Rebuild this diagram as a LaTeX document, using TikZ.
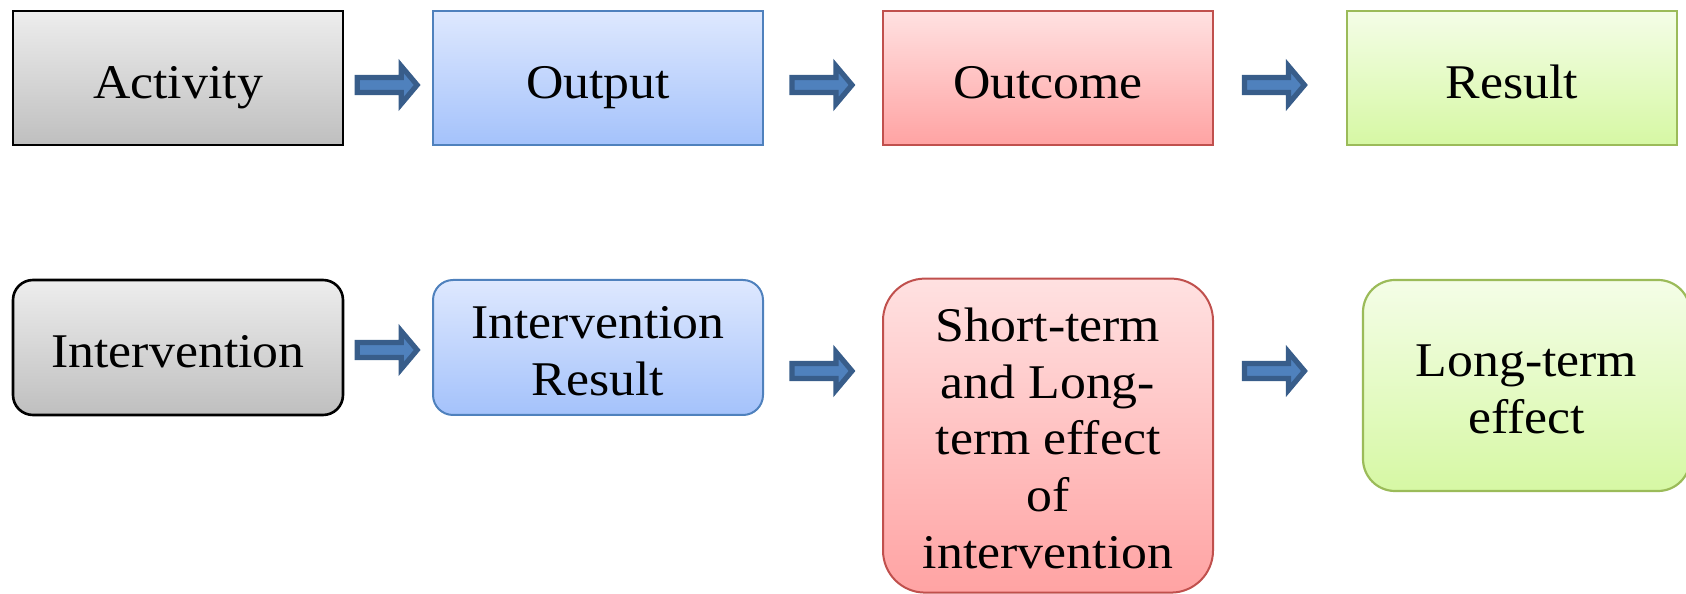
\documentclass[tikz,border=0pt]{standalone}
\usepackage{fontspec}
\setmainfont{Liberation Serif}[FakeStretch=1.07]
\usetikzlibrary{calc}

\definecolor{grayTop}{HTML}{EDEDED}
\definecolor{grayBot}{HTML}{BFBFBF}
\definecolor{blueTop}{HTML}{DEE8FE}
\definecolor{blueBot}{HTML}{A4C2FB}
\definecolor{blueLine}{HTML}{4F81BD}
\definecolor{redTop}{HTML}{FFE1E1}
\definecolor{redBot}{HTML}{FFA3A3}
\definecolor{redLine}{HTML}{C0504D}
\definecolor{greenTop}{HTML}{F4FDE7}
\definecolor{greenBot}{HTML}{D6F8A4}
\definecolor{greenLine}{HTML}{9BBB59}
\definecolor{arrowBody}{HTML}{4F81BD}
\definecolor{arrowLine}{HTML}{385D8A}

% invisible strut that fixes the height of the first line of a label
\newcommand{\firstlinestrut}{\rule{0pt}{19.5pt}}

\tikzset{
  box/.style={rectangle, minimum width=165pt, minimum height=67pt, inner sep=0pt,
    align=center, font=\fontsize{24.2pt}{28.3pt}\selectfont},
  % single-line labels: keep the baseline at the same place whatever the letters
  oneline/.style={text height=20.2pt, text depth=0pt},
  graybox/.style={draw=black, line width=1.3pt, top color=grayTop, bottom color=grayBot},
  bluebox/.style={draw=blueLine, line width=1pt, top color=blueTop, bottom color=blueBot},
  redbox/.style={draw=redLine, line width=1pt, top color=redTop, bottom color=redBot},
  greenbox/.style={draw=greenLine, line width=1.1pt, top color=greenTop, bottom color=greenBot},
  % block arrow centred in the gap between two boxes: #1 = height, #2 = horizontal shift
  blockarrow/.style 2 args={draw=arrowLine, fill=arrowBody, line width=2.6pt, line join=miter,
    to path={let \p3=($(\tikztostart.east)!0.5!(\tikztotarget.west)$) in
      (\x3+#2-15.5pt,#1+3.75pt) -- (\x3+#2+6.5pt,#1+3.75pt) -- (\x3+#2+6.5pt,#1+9.5pt)
      -- (\x3+#2+14.5pt,#1) -- (\x3+#2+6.5pt,#1-9.5pt) -- (\x3+#2+6.5pt,#1-3.75pt)
      -- (\x3+#2-15.5pt,#1-3.75pt) -- cycle}}
}

\begin{document}
\begin{tikzpicture}[x=1pt,y=1pt]
  \useasboundingbox (0,0) rectangle (843,297);
  \clip (0,0) rectangle (843,297);

  % upper chain
  \node[box, oneline, graybox]  (act) at (89,258)  {Activity};
  \node[box, oneline, bluebox]  (out) at (299,258) {Output};
  \node[box, oneline, redbox]   (oc)  at (524,258) {Outcome};
  \node[box, oneline, greenbox] (res) at (756,258) {Result};

  % lower chain
  \node[box, oneline, graybox, rounded corners=10pt, minimum height=67.5pt] (int) at (89,123.25) {Intervention};
  \node[box, bluebox, rounded corners=10pt, minimum height=67.5pt] (ires) at (299,123.25)
    {\firstlinestrut Intervention\\Result};
  \node[box, redbox, rounded corners=21pt, minimum height=157pt] (eff) at (524,79.2)
    {\firstlinestrut Short-term\\and Long-\\term effect\\of\\intervention};
  \node[box, greenbox, rounded corners=16pt, minimum width=163.5pt, minimum height=105.5pt] (lte) at (763.25,104.25)
    {\firstlinestrut Long-term\\effect};

  % arrows
  \draw[blockarrow={254.5pt}{0pt}] (act) to (out);
  \draw[blockarrow={254.5pt}{0pt}] (out) to (oc);
  \draw[blockarrow={254.5pt}{-2.25pt}] (oc) to (res);
  \draw[blockarrow={122pt}{0pt}] (int) to (ires);
  \draw[blockarrow={111.5pt}{0pt}] (ires) to (eff);
  \draw[blockarrow={111.5pt}{-6.25pt}] (eff) to (lte);
\end{tikzpicture}
\end{document}
